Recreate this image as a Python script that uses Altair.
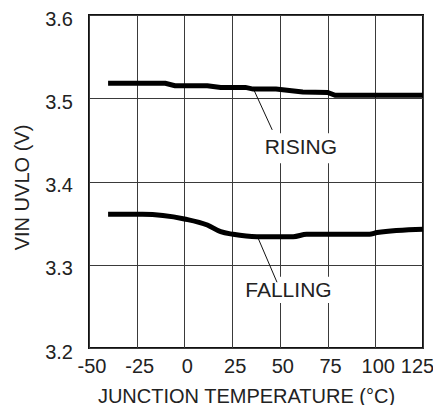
import altair as alt
import pandas as pd

# ---- data ----
temp_rising = [-40, -10, -5, 12, 19, 32, 36, 48, 62, 75, 79, 125]
vin_rising = [3.518, 3.518, 3.515, 3.515, 3.513, 3.513, 3.511, 3.511, 3.5075, 3.507, 3.5035, 3.5035]

temp_falling = [-40, -22, 0, 12, 19, 25.5, 38, 57, 64, 97, 101, 125]
vin_falling = [3.3606, 3.3606, 3.355, 3.3477, 3.3397, 3.3366, 3.3337, 3.3337, 3.3366, 3.3366, 3.3387, 3.3426]

x_ticks = [-50, -25, 0, 25, 50, 75, 100, 125]
y_ticks = [3.2, 3.3, 3.4, 3.5, 3.6]

label_text = ["RISING", "FALLING"]
label_t = [61, 54.5]
label_v = [3.440, 3.268]
leader_t = [36, 38.6]
leader_v = [3.512, 3.332]
leader_t2 = [46, 48.5]
leader_v2 = [3.462, 3.279]
box_t = [40, 30.5]
box_t2 = [82, 79]
box_v = [3.458, 3.2855]
box_v2 = [3.422, 3.254]

FONT = "Liberation Sans"

rising = pd.DataFrame({"t": temp_rising, "v": vin_rising})
falling = pd.DataFrame({"t": temp_falling, "v": vin_falling})
labels = pd.DataFrame({"label": label_text, "t": label_t, "v": label_v})
leaders = pd.DataFrame({"t": leader_t, "v": leader_v, "t2": leader_t2, "v2": leader_v2})
boxes = pd.DataFrame({"t": box_t, "t2": box_t2, "v": box_v, "v2": box_v2})

xscale = alt.Scale(domain=[-50, 125], nice=False, zero=False)
yscale = alt.Scale(domain=[3.2, 3.6], nice=False, zero=False)

x_axis = alt.Axis(
    values=x_ticks, labelExpr="'' + datum.value", title="JUNCTION TEMPERATURE (°C)",
    grid=True, ticks=False, domain=False,
    labelPadding=8,
    labelOffset={"condition": {"test": "datum.value == 125", "value": -6}, "value": 2.5},
    labelFlush=False, labelOverlap=False,
    titleX=157, titleY=54, titleBaseline="alphabetic", titleAlign="center",
)
y_axis = alt.Axis(
    values=y_ticks, format=".1f", title="VIN UVLO (V)",
    grid=True, ticks=False, domain=False,
    labelPadding=16.5, labelOffset=4, labelFlush=False, labelOverlap=False,
    titleX=-67, titleY=172, titleBaseline="middle", titleAlign="center", titleAngle=270,
)


def X(field):
    return alt.X(field, type="quantitative", scale=xscale, axis=x_axis)


def Y(field):
    return alt.Y(field, type="quantitative", scale=yscale, axis=y_axis)


bg = alt.Chart(boxes).mark_rect(color="white").encode(
    x=X("t"), x2="t2", y=Y("v"), y2="v2",
)

lead = alt.Chart(leaders).mark_rule(color="#111", strokeWidth=1).encode(
    x=X("t"), x2="t2", y=Y("v"), y2="v2",
)

line_r = alt.Chart(rising).mark_line(color="black", strokeWidth=5, interpolate="linear").encode(
    x=X("t"), y=Y("v"),
)
line_f = alt.Chart(falling).mark_line(color="black", strokeWidth=5, interpolate="monotone").encode(
    x=X("t"), y=Y("v"),
)

txt = alt.Chart(labels).mark_text(
    font=FONT, fontSize=21, color="#222", baseline="middle", align="center"
).encode(
    x=X("t"), y=Y("v"), text="label:N",
)

chart = alt.layer(bg, lead, line_r, line_f, txt).properties(
    width=334, height=333,
    autosize=alt.AutoSizeParams(type="none"),
    padding={"left": 81, "top": 7, "right": 10, "bottom": 57},
).configure_view(
    stroke="#111", strokeWidth=2,
).configure_axis(
    labelFont=FONT, labelFontSize=20, labelColor="#222",
    titleFont=FONT, titleFontSize=20, titleFontWeight="normal", titleColor="#222",
    gridColor="#3a3a3a", gridWidth=1, gridOpacity=1,
)

chart.save("out.html", embed_options={"renderer": "svg", "actions": False})
